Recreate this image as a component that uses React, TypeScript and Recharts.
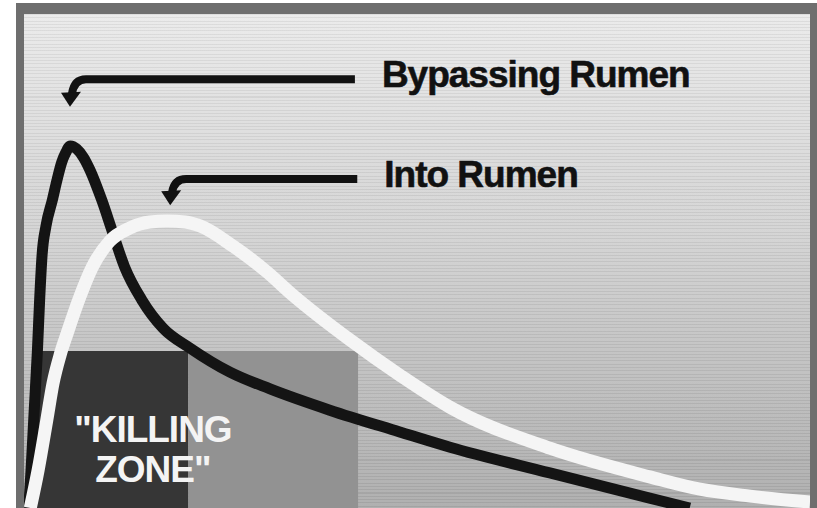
import React from "react";
import { ComposedChart, Line, XAxis, YAxis, ReferenceArea, ReferenceLine, ReferenceDot } from "recharts";

// time (relative units 0..100) vs concentration (relative units 0..100)
const bypassX = [0.6, 0.9, 1.3, 1.7, 2.0, 2.3, 2.8, 3.6, 4.2, 4.8, 5.3, 5.9, 6.7, 7.6, 8.4, 9.9, 11.3, 12.8, 15.0, 17.7, 21.1, 26.2, 31.3, 38.9, 47.8, 54.2, 66.9, 79.6, 84.7];
const bypassY = [0, 7.7, 19.8, 31.6, 42.5, 51.2, 57.1, 62.3, 66.4, 70.0, 71.9, 73.3, 72.7, 70.9, 68.4, 62.3, 55.7, 48.8, 42.1, 36.4, 32.4, 27.5, 24.1, 19.8, 15.4, 12.3, 7.1, 2.0, 0];

const intoX = [0.8, 1.8, 2.9, 3.7, 4.6, 5.5, 7.1, 8.7, 10.9, 13.5, 16.0, 18.2, 20.5, 22.4, 26.6, 30.9, 34.2, 41.5, 47.8, 54.2, 66.9, 79.6, 86.0, 92.4, 100];
const intoY = [0, 7.7, 17.8, 25.3, 31.0, 35.4, 42.7, 48.8, 54.0, 56.7, 57.9, 58.1, 57.9, 57.1, 53.0, 47.8, 43.1, 34.0, 26.9, 20.4, 12.1, 6.3, 3.8, 2.4, 1.2];

const killingZoneX = [1.65, 20.9];
const killingZoneX2 = [20.9, 42.5];
const killingZoneTop = 31.8;

const labelBypass = "Bypassing Rumen";
const labelInto = "Into Rumen";
const bypassArrow = { tailX: 42.1, tailY: 86.8, tipX: 5.85, tipY: 81.2 };
const intoArrow = { tailX: 42.4, tailY: 66.6, tipX: 18.6, tipY: 61.3 };
const zoneLines = ['"KILLING', 'ZONE"'];
const zoneAnchor = { x: 16.4, y: 13.4 };

const bypassData = bypassX.map((x, i) => ({ x, y: bypassY[i] }));
const intoData = intoX.map((x, i) => ({ x, y: intoY[i] }));

const FONT = '"Liberation Sans", Arial, Helvetica, sans-serif';

const makeArrow = (text: string) => (p: any) => {
  const rx = p.x1, ly = p.y1, tx = p.x2, ty = p.y2;
  return (
    <g>
      <path d={`M ${rx} ${ly} L ${tx + 16} ${ly} Q ${tx + 4} ${ly} ${tx + 2} ${ty - 13}`} stroke="#111" strokeWidth={8} fill="none" />
      <path d={`M ${tx - 9} ${ty - 14} L ${tx + 11} ${ty - 15} L ${tx} ${ty} Z`} fill="#111" />
      <text x={rx + 27} y={ly + 8} fontFamily={FONT} fontWeight="bold" fontSize={37} letterSpacing={-1} fill="#111" stroke="#111" strokeWidth={0.6}>{text}</text>
    </g>
  );
};

const zoneShape = (p: any) => (
  <text x={p.cx} y={p.cy} textAnchor="middle" fontFamily={FONT} fontWeight="bold" fontSize={37} letterSpacing={-1} fill="#f4f4f4">
    <tspan x={p.cx} dy={0}>{zoneLines[0]}</tspan>
    <tspan x={p.cx} dy={40}>{zoneLines[1]}</tspan>
  </text>
);

export default function App() {
  return (
    <div style={{ position: "absolute", left: 0, top: 0, width: 817, height: 508, background: "#fff", overflow: "hidden" }}>
      <div style={{ position: "absolute", left: 16, top: 3, width: 801, height: 505, background: "#6e6e6e" }} />
      <div
        style={{
          position: "absolute", left: 24, top: 14, width: 786, height: 494,
          background:
            "repeating-linear-gradient(to bottom, rgba(0,0,0,0.06) 0px, rgba(0,0,0,0.06) 1px, rgba(255,255,255,0.04) 1px, rgba(255,255,255,0.04) 3.3px), linear-gradient(to bottom, #eaeaea 0%, #d3d3d3 45%, #adadad 100%)",
        }}
      />
      <div style={{ position: "absolute", left: 0, top: 0 }}>
        <ComposedChart width={817} height={508} margin={{ top: 14, left: 24, right: 7, bottom: 0 }}>
          <XAxis type="number" dataKey="x" domain={[0, 100]} hide allowDataOverflow />
          <YAxis type="number" dataKey="y" domain={[0, 100]} hide allowDataOverflow />
          <ReferenceArea x1={killingZoneX[0]} x2={killingZoneX[1]} y1={0} y2={killingZoneTop} fill="#363636" fillOpacity={1} stroke="none" />
          <ReferenceArea x1={killingZoneX2[0]} x2={killingZoneX2[1]} y1={0} y2={killingZoneTop} fill="#929292" fillOpacity={1} stroke="none" />
          <Line data={bypassData} dataKey="y" type="monotone" stroke="#141414" strokeWidth={11} dot={false} isAnimationActive={false} />
          <Line data={intoData} dataKey="y" type="monotone" stroke="#f5f5f5" strokeWidth={13} dot={false} isAnimationActive={false} />
          <ReferenceDot x={zoneAnchor.x} y={zoneAnchor.y} r={0} shape={zoneShape} />
          <ReferenceLine segment={[{ x: bypassArrow.tailX, y: bypassArrow.tailY }, { x: bypassArrow.tipX, y: bypassArrow.tipY }]} shape={makeArrow(labelBypass)} />
          <ReferenceLine segment={[{ x: intoArrow.tailX, y: intoArrow.tailY }, { x: intoArrow.tipX, y: intoArrow.tipY }]} shape={makeArrow(labelInto)} />
        </ComposedChart>
      </div>
    </div>
  );
}
